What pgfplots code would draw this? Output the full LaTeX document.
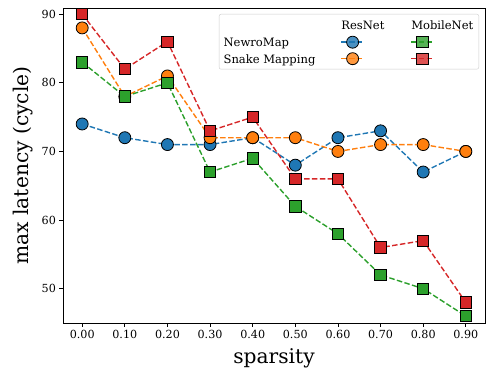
\documentclass[border=0pt]{standalone}
\usepackage{fontspec}
\setmainfont{DejaVu Serif}
\usepackage{pgfplots}
\pgfplotsset{compat=1.18}
\definecolor{tabblue}{HTML}{1F77B4}
\definecolor{taborange}{HTML}{FF7F0E}
\definecolor{tabgreen}{HTML}{2CA02C}
\definecolor{tabred}{HTML}{D62728}
\tikzset{
  myline/.style={line width=1.4bp, dash pattern=on 5.5bp off 2.4bp},
  mymark/.style={solid, draw=black, line width=0.8bp, fill=#1},
}
\pgfplotsset{
  resnew/.style={tabblue, myline, mark=*, mark size=6bp, mark options={mymark=tabblue}},
  ressnake/.style={taborange, myline, mark=*, mark size=6bp, mark options={mymark=taborange}},
  mobnew/.style={tabgreen, myline, mark=square*, mark size=5.7bp, mark options={mymark=tabgreen}},
  mobsnake/.style={tabred, myline, mark=square*, mark size=5.7bp, mark options={mymark=tabred}},
  mylegimg/.style={legend image code/.code={%
    \draw[##1, mark=none] (0bp,0bp) -- (23bp,0bp);
    \draw[##1] plot coordinates {(11.5bp,0bp)};}},
  myheader/.style={legend image code/.code={%
    \path[draw=none, fill=none] (0bp,-6.5bp) rectangle (1bp,6.5bp);
    \node[anchor=west, inner sep=0pt, draw=none, fill=none] at (0bp,0bp) {#1};}},
}
\pgfplotstableread{
x     rn   rs   mn   ms
0.0   74   88   83   90
0.1   72   78   78   82
0.2   71   81   80   86
0.3   71   72   67   73
0.4   72   72   69   75
0.5   68   72   62   66
0.6   72   70   58   66
0.7   73   71   52   56
0.8   67   71   50   57
0.9   70   70   46   48
}\datatable
\begin{document}
\begin{tikzpicture}
\useasboundingbox (-63bp,-46bp) rectangle (423bp,323bp);
\begin{axis}[
  at={(0,0)}, anchor=south west,
  scale only axis, width=422bp, height=315bp,
  xmin=-0.045, xmax=0.945, ymin=45, ymax=90.9,
  xtick={0,0.1,0.2,0.3,0.4,0.5,0.6,0.7,0.8,0.9},
  xticklabels={0.00,0.10,0.20,0.30,0.40,0.50,0.60,0.70,0.80,0.90},
  ytick={50,60,70,80,90},
  /pgf/number format/assume math mode=true,
  tick label style={font=\fontsize{11.2}{13}\selectfont},
  tick align=outside, tick pos=left,
  major tick length=3.6bp,
  every tick/.style={black, line width=0.8bp},
  axis line style={line width=0.8bp},
  xlabel={sparsity}, ylabel={max latency (cycle)},
  every axis x label/.style={at={(axis description cs:0.5,-0.128)}, anchor=base, font=\fontsize{20.3}{24}\selectfont},
  every axis y label/.style={at={(axis description cs:-0.081,0.5)}, rotate=90, anchor=base, font=\fontsize{20.3}{24}\selectfont},
  legend columns=3,
  legend cell align=left,
  legend style={
    at={(0.9858,0.981)}, anchor=north east,
    draw=black!20, rounded corners=2bp, fill=white, fill opacity=0.8, text opacity=1,
    font=\fontsize{11.6}{13}\selectfont,
    inner xsep=4.5bp, inner ysep=4.5bp,
    nodes={inner sep=0pt, text depth=0pt},
    column sep=0pt,
    row sep=4.5bp,
    /tikz/every even column/.append style={column sep=25bp},
  },
]
\addplot[resnew, forget plot] table[x=x, y=rn] {\datatable};
\addplot[ressnake, forget plot] table[x=x, y=rs] {\datatable};
\addplot[mobnew, forget plot] table[x=x, y=mn] {\datatable};
\addplot[mobsnake, forget plot] table[x=x, y=ms] {\datatable};

\addlegendimage{empty legend}\addlegendentry{\relax}
\addlegendimage{myheader=ResNet}\addlegendentry{\relax}
\addlegendimage{myheader=MobileNet}\addlegendentry{\relax}
\addlegendimage{empty legend}\addlegendentry{NewroMap}
\addlegendimage{resnew, mylegimg}\addlegendentry{\relax}
\addlegendimage{mobnew, mylegimg}\addlegendentry{\relax}
\addlegendimage{empty legend}\addlegendentry{Snake Mapping}
\addlegendimage{ressnake, mylegimg}\addlegendentry{\relax}
\addlegendimage{mobsnake, mylegimg}\addlegendentry{\relax}
\end{axis}
\end{tikzpicture}
\end{document}
